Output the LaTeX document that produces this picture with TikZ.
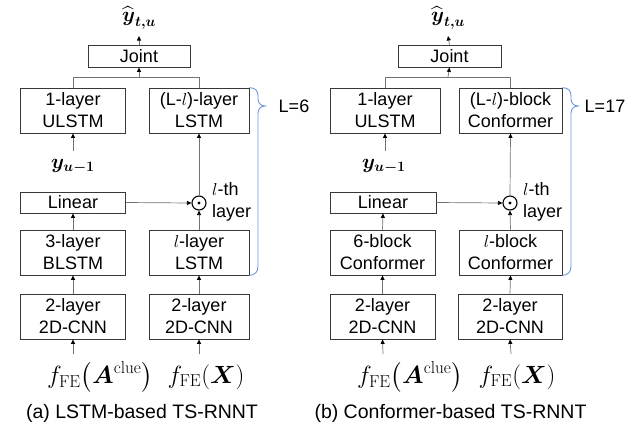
\documentclass[tikz,border=0pt]{standalone}
\usepackage{amsmath}
\usepackage[no-math]{fontspec}
\setmainfont{Liberation Sans}
\usetikzlibrary{arrows.meta,calc}
\definecolor{bracecol}{RGB}{110,150,215}
\newcommand{\boxfont}{\fontsize{18}{22}\selectfont}
\newcommand{\mathfnt}{\fontsize{22}{26}\selectfont}
\newcommand{\mathbig}{\fontsize{24}{28}\selectfont}
\begin{document}
\begin{tikzpicture}[x=1pt,y=-1pt,
  box/.style={draw=black!78, line width=0.8pt, inner sep=0pt, align=center, font=\boxfont, minimum height=45pt},
  conn/.style={draw=black!55, line width=0.7pt},
  arr/.style={conn, -{Triangle[length=4.5pt,width=4pt,color=black]}},
  bracepath/.style={draw=bracecol, line width=0.9pt},
  odotnode/.style={circle, draw=black, line width=1.1pt, minimum size=14pt, inner sep=0pt},
  mlabel/.style={font=\mathfnt, inner sep=1pt},
  flabel/.style={font=\mathbig, inner sep=1pt},
  tlabel/.style={font=\boxfont, inner sep=0pt},
  caption/.style={font=\fontsize{19.5}{23}\selectfont, inner sep=0pt}
]
\useasboundingbox (0,0) rectangle (642,424);

% ---------------- left panel ----------------
\node[box, minimum width=102pt, minimum height=22pt] (jointA) at (139,56) {Joint};
\node[box, minimum width=105pt] (ulstmA) at (73,110.5) {1-layer\\ULSTM};
\node[box, minimum width=100pt] (toplA) at (199,110.5) {(L-$l$)-layer\\LSTM};
\node[box, minimum width=105pt, minimum height=21pt] (linA) at (73,202.5) {Linear};
\node[box, minimum width=105pt] (blstmA) at (73,252.5) {3-layer\\BLSTM};
\node[box, minimum width=100pt] (botlA) at (199,252.5) {$l$-layer\\LSTM};
\node[box, minimum width=105pt] (cnnA1) at (73,316.5) {2-layer\\2D-CNN};
\node[box, minimum width=100pt] (cnnA2) at (199,316.5) {2-layer\\2D-CNN};
\node[odotnode] (odotA) at (199,203) {};
\fill (odotA.center) circle (1.6pt);

\node[mlabel] (yhatA) at (139,18) {$\widehat{\boldsymbol{y}}_{\boldsymbol{t,u}}$};
\node[mlabel] (yA) at (73,166) {$\boldsymbol{y_{u-1}}$};
\node[flabel] (fA1) at (100,377) {$f_{\mathrm{FE}}\bigl(\boldsymbol{A}^{\mathrm{clue}}\bigr)$};
\node[flabel] (fA2) at (206,377) {$f_{\mathrm{FE}}(\boldsymbol{X})$};
\node[tlabel, anchor=west, align=left] (lthA) at (212,202) {$l$-th\\layer};
\node[tlabel] (LA) at (294,106) {L=6};
\node[caption] (capA) at (142,413) {(a) LSTM-based TS-RNNT};

\coordinate (brA) at (139,77);
\coordinate (outA) at (139,36);
\coordinate (inA1) at (73,354);
\coordinate (inA2) at (199,354);
\coordinate (yinA) at (73,151);

\draw[conn] (ulstmA.north) -- (ulstmA.north |- brA) -- (toplA.north |- brA) -- (toplA.north);
\draw[arr] (brA) -- (jointA.south);
\draw[arr] (jointA.north) -- (outA);
\draw[arr] (yinA) -- (ulstmA.south);
\draw[arr] (linA.east) -- (odotA.west);
\draw[arr] (odotA.north) -- (toplA.south);
\draw[arr] (botlA.north) -- (odotA.south);
\draw[arr] (blstmA.north) -- (linA.south);
\draw[arr] (cnnA1.north) -- (blstmA.south);
\draw[arr] (cnnA2.north) -- (botlA.south);
\draw[arr] (inA1) -- (cnnA1.south);
\draw[arr] (inA2) -- (cnnA2.south);

\draw[bracepath] (toplA.north east) .. controls (256,88) and (258,91) .. (258,96)
  -- (258,99) .. controls (258,103) and (261,106) .. (265,106)
  .. controls (261,106) and (258,109) .. (258,113)
  -- (258,266) .. controls (258,272) and (255,275) .. (botlA.south east);

% ---------------- right panel ----------------
\node[box, minimum width=103pt, minimum height=22pt] (jointB) at (449.5,56) {Joint};
\node[box, minimum width=110pt] (ulstmB) at (385,110.5) {1-layer\\ULSTM};
\node[box, minimum width=103pt] (toplB) at (510.5,110.5) {(L-$l$)-block\\Conformer};
\node[box, minimum width=106pt, minimum height=21pt] (linB) at (383,202.5) {Linear};
\node[box, minimum width=105pt] (blstmB) at (382.5,252.5) {6-block\\Conformer};
\node[box, minimum width=103pt] (botlB) at (510.5,252.5) {$l$-block\\Conformer};
\node[box, minimum width=105pt] (cnnB1) at (382.5,316.5) {2-layer\\2D-CNN};
\node[box, minimum width=104pt] (cnnB2) at (510,316.5) {2-layer\\2D-CNN};
\node[odotnode] (odotB) at (510,203) {};
\fill (odotB.center) circle (1.6pt);

\node[mlabel] (yhatB) at (448,18) {$\widehat{\boldsymbol{y}}_{\boldsymbol{t,u}}$};
\node[mlabel] (yB) at (384,166) {$\boldsymbol{y_{u-1}}$};
\node[flabel] (fB1) at (410,377) {$f_{\mathrm{FE}}\bigl(\boldsymbol{A}^{\mathrm{clue}}\bigr)$};
\node[flabel] (fB2) at (517,377) {$f_{\mathrm{FE}}(\boldsymbol{X})$};
\node[tlabel, anchor=west, align=left] (lthB) at (523,202) {$l$-th\\layer};
\node[tlabel] (LB) at (605,106) {L=17};
\node[caption] (capB) at (450.5,413) {(b) Conformer-based TS-RNNT};

\coordinate (brB) at (448,77);
\coordinate (outB) at (448,36);
\coordinate (inB1) at (383,354);
\coordinate (inB2) at (511,354);
\coordinate (yinB) at (385,151);

\draw[conn] (ulstmB.north) -- (ulstmB.north |- brB) -- (toplB.north |- brB) -- (toplB.north);
\draw[arr] (brB) -- (jointB.south);
\draw[arr] (jointB.north) -- (outB);
\draw[arr] (yinB) -- (ulstmB.south);
\draw[arr] (linB.east) -- (odotB.west);
\draw[arr] (odotB.north) -- (toplB.south);
\draw[arr] (botlB.north) -- (odotB.south);
\draw[arr] (blstmB.north) -- (linB.south);
\draw[arr] (cnnB1.north) -- (blstmB.south);
\draw[arr] (cnnB2.north) -- (botlB.south);
\draw[arr] (inB1) -- (cnnB1.south);
\draw[arr] (inB2) -- (cnnB2.south);

\draw[bracepath] (toplB.north east) .. controls (569,88) and (571,91) .. (571,96)
  -- (571,99) .. controls (571,103) and (574,106) .. (578,106)
  .. controls (574,106) and (571,109) .. (571,113)
  -- (571,266) .. controls (571,272) and (568,275) .. (botlB.south east);
\end{tikzpicture}
\end{document}
